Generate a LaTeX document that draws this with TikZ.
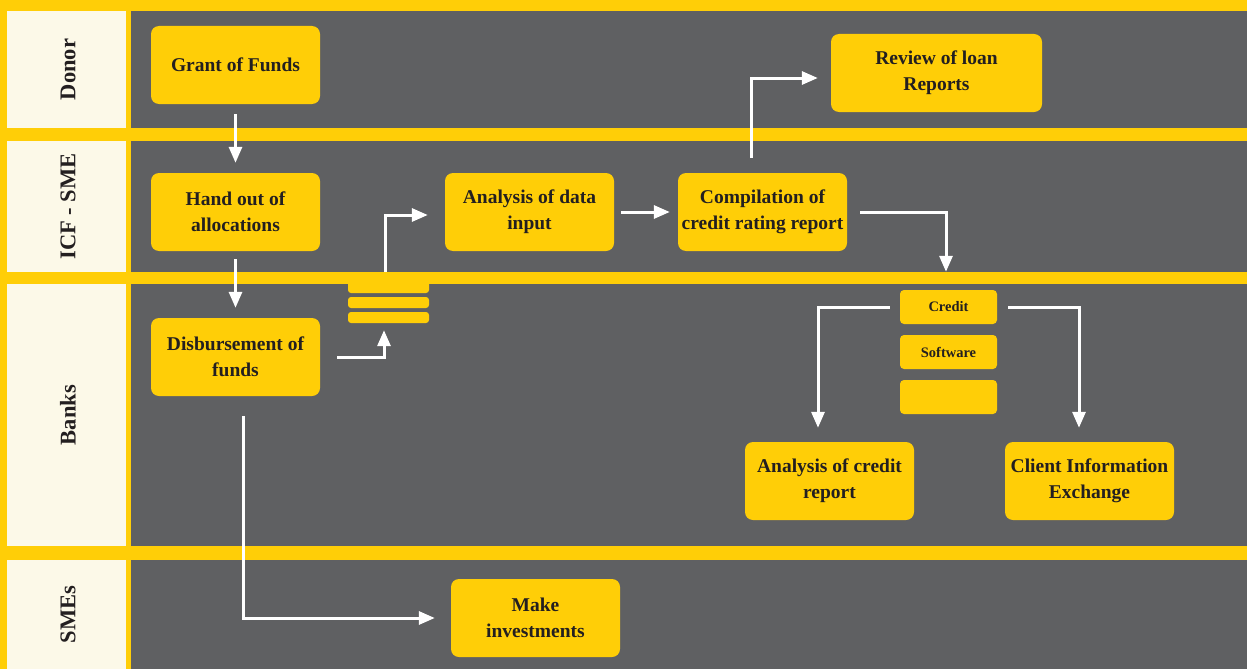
\documentclass[tikz,border=0pt]{standalone}
\usepackage{fontspec}
\setmainfont{Liberation Serif}
\usetikzlibrary{arrows.meta}
\definecolor{ybg}{HTML}{FFCE07}
\definecolor{lanegray}{HTML}{5F6062}
\definecolor{cream}{HTML}{FCF9E8}
\definecolor{ink}{HTML}{231F20}
\begin{document}
\begin{tikzpicture}[x=1pt,y=-1pt,
 box/.style={fill=ybg, rounded corners=8pt, minimum width=169pt, minimum height=78pt, align=center,
   font=\fontsize{19.5}{26}\selectfont\bfseries, text=ink, inner sep=0pt},
 smallbox/.style={fill=ybg, rounded corners=4pt, minimum width=97pt, minimum height=34pt,
   font=\fontsize{14.5}{17}\selectfont\bfseries, text=ink, inner sep=0pt},
 barbox/.style={fill=ybg, rounded corners=3pt, minimum width=81pt, inner sep=0pt},
 arr/.style={draw=white, line width=3pt, -{Triangle[length=16pt,width=13pt]}},
 lanelbl/.style={rotate=90, font=\fontsize{22.5}{27}\selectfont\bfseries, text=ink, inner sep=0pt}]
\useasboundingbox (0,0) rectangle (1247,669);
\fill[ybg] (0,0) rectangle (1247,669);
% lanes
\fill[cream] (7,11) rectangle (126,128);
\fill[lanegray] (131,11) rectangle (1247,128);
\fill[cream] (7,141) rectangle (126,272);
\fill[lanegray] (131,141) rectangle (1247,272);
\fill[cream] (7,284) rectangle (126,546);
\fill[lanegray] (131,284) rectangle (1247,546);
\fill[cream] (7,560) rectangle (126,669);
\fill[lanegray] (131,560) rectangle (1247,669);
\node[lanelbl] (lDonor) at (68,69.5) {Donor};
\node[lanelbl] (lICF) at (68,206.5) {ICF - SME};
\node[lanelbl] (lBanks) at (68,415) {Banks};
\node[lanelbl] (lSMEs) at (68,614.5) {SMEs};
% nodes
\node[box] (grant) at (235.5,65) {Grant of Funds};
\node[box] (hand) at (235.5,212) {Hand out of\\allocations};
\node[box] (disb) at (235.5,357) {Disbursement of\\funds};
\node[box] (anadata) at (529.5,212) {Analysis of data\\input};
\node[box] (comp) at (762.5,212) {Compilation of\\credit rating report};
\node[box, minimum width=211pt] (review) at (936.5,73) {Review of loan\\Reports};
\node[smallbox] (credit) at (948.5,307) {Credit};
\node[smallbox] (soft) at (948.5,352) {Software};
\node[smallbox] (blank) at (948.5,397) {};
\node[box] (anacredit) at (829.5,481) {Analysis of credit\\report};
\node[box] (client) at (1089.5,481) {Client Information\\Exchange};
\node[box] (invest) at (535.5,618) {Make\\investments};
\node[barbox, minimum height=21pt] (stackA) at (388.5,282.5) {};
\node[barbox, minimum height=11pt] (stackB) at (388.5,302.5) {};
\node[barbox, minimum height=11pt] (stackC) at (388.5,317.5) {};
% connectors
\draw[arr, shorten <=10pt, shorten >=10pt] (grant.south) -- (hand.north);
\draw[arr, shorten <=8pt, shorten >=10pt] (hand.south) -- (disb.north);
\draw[arr] ([xshift=7.5pt,yshift=-20pt]disb.south) |- ([xshift=-16pt]invest.west);
\draw[arr] ([xshift=17pt]disb.east) -| ([xshift=-4.5pt,yshift=-7pt]stackC.south);
\draw[arr] ([xshift=-3.5pt]stackA.north) |- ([xshift=-17pt,yshift=-3pt]anadata.west);
\draw[arr, shorten <=7pt, shorten >=8pt] (anadata.east) -- (comp.west);
\draw[arr] ([xshift=-11.5pt,yshift=15pt]comp.north) |- ([xshift=-13pt,yshift=-5pt]review.west);
\draw[arr] ([xshift=13pt]comp.east) -| ([xshift=-2.5pt,yshift=18pt]credit.north);
\draw[arr] ([xshift=-10pt]credit.west) -| ([xshift=-11.5pt,yshift=14pt]anacredit.north);
\draw[arr] ([xshift=11pt]credit.east) -| ([xshift=-10.5pt,yshift=14pt]client.north);
\end{tikzpicture}
\end{document}
